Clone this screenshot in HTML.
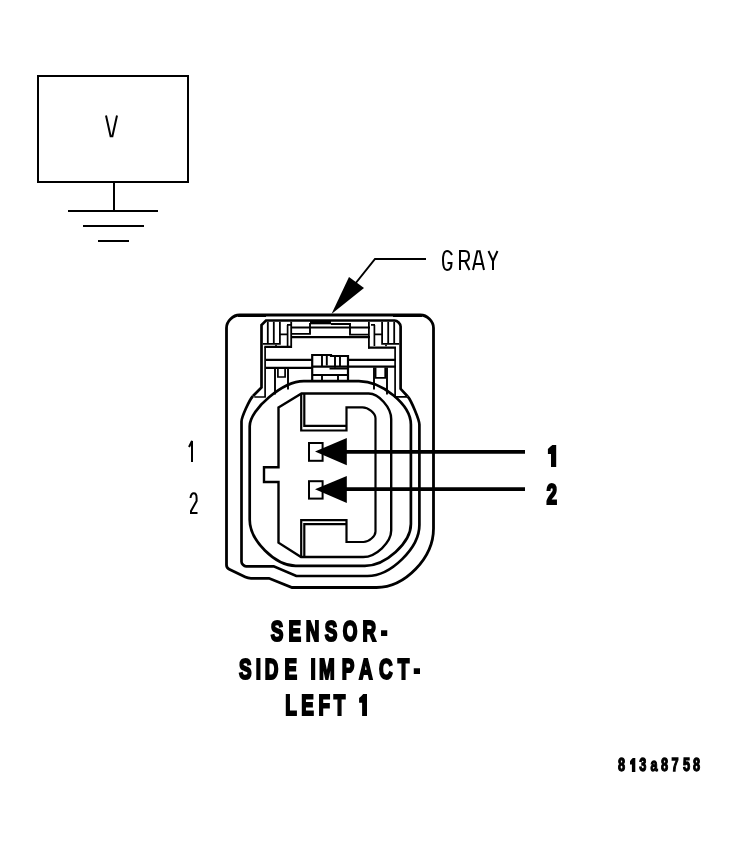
<!DOCTYPE html>
<html><head><meta charset="utf-8">
<style>
html,body{margin:0;padding:0;background:#fff;width:737px;height:847px;overflow:hidden}
svg{display:block;position:absolute;left:0;top:0;will-change:transform}
.b{font-family:"Liberation Sans",sans-serif;font-weight:bold}
</style></head>
<body>
<svg width="737" height="847" viewBox="0 0 737 847">
<rect x="0" y="0" width="737" height="847" fill="#fff"/>
<g fill="none" stroke="#000" stroke-linecap="butt" stroke-linejoin="miter">
<rect stroke-width="2" x="38" y="76" width="150" height="106"/>
<path stroke-width="2" d="M114 183V211M68 211H158M83 226H144M98 241H129"/>
<path stroke-width="2" d="M106 115.5L110.6 136.3H112.4L117 115.5"/>
<path stroke-width="2" d="M426 259H375L355 284"/>
<path stroke-width="2.8" d="M239.50 315.00L420.50 315.00C427.00 315.00 433.50 321.50 433.50 328.00L433.50 528.50C433.50 558.00 405.00 587.50 376.50 587.50L292.00 587.50L269.00 578.30L251.00 578.30C249.50 578.30 246.65 577.65 245.29 577.00L229.21 569.30C227.85 568.65 226.50 566.50 226.50 565.00L226.50 328.00C226.50 321.50 233.00 315.00 239.50 315.00Z"/>
<path stroke-width="2.7" d="M253.00 396.00L261.50 387.50L261.50 325.00L266.00 320.50L394.60 320.50C397.30 320.50 400.60 323.80 400.60 326.50L400.60 388.80L407.70 396.50"/>
<path stroke-width="2.7" d="M253.00 396.00L252.81 396.19C249.42 399.58 241.50 417.30 241.50 421.50L241.50 561.80C241.50 563.82 243.97 566.30 246.00 566.30L273.70 566.30L296.30 576.00L367.40 576.00C390.80 576.00 419.40 547.95 419.40 525.00L419.40 424.60C419.40 419.98 411.19 400.29 407.68 396.48L407.70 396.50"/>
<path stroke-width="2.7" d="M303.70 381.20L358.90 381.20C382.30 381.20 410.90 405.07 410.90 424.60L410.90 524.00C410.90 542.81 385.60 565.80 364.90 565.80L295.70 565.80C275.00 565.80 249.70 540.50 249.70 519.80L249.70 426.20C249.70 409.10 283.18 381.20 303.70 381.20Z"/>
<path stroke-width="2.4" d="M278.50 407.50L301.50 393.50L368.70 393.50C378.82 393.50 391.20 407.52 391.20 419.00L391.20 530.60C391.20 542.48 375.80 557.00 363.20 557.00L301.00 557.00L278.50 542.70L278.50 482.00L264.00 482.00L264.00 467.30L278.50 467.30L278.50 407.50Z"/>
<path stroke-width="2.2" d="M301.20 393.50L301.20 430.50L346.50 430.50L346.50 407.30L362.50 407.30C368.35 407.30 375.50 413.35 375.50 418.30L375.50 531.50C375.50 536.23 368.90 542.00 363.50 542.00L346.50 542.00L346.50 520.20L301.20 520.20L301.20 557.50"/>
<path stroke-width="2.2" d="M304.3 393.5V425.8H346.5M304.3 557.5V524.2H346.5"/>
<rect stroke-width="2" x="309" y="443" width="13.6" height="17.8"/>
<rect stroke-width="2" x="309" y="481.2" width="13.6" height="17.4"/>
<path stroke-width="3.8" d="M340 451.85H525M340 489.15H525"/>
<g><path stroke-width="1.8" d="M267.8 321.8V343.8M273.8 321.8V343.8M279.9 321.8V343.8M262.9 343.8H280.8M280.8 334.4H287"/><path stroke-width="1.7" d="M276 344.7V346.3M287.6 325V346M287 324.8H291"/><path stroke-width="2.2" d="M266 359.8H313"/><path stroke-width="1.9" d="M275 367.5V394.5M288 367.5V389.6"/></g>
<g transform="translate(662 0) scale(-1 1)"><path stroke-width="1.8" d="M267.8 321.8V343.8M273.8 321.8V343.8M279.9 321.8V343.8M262.9 343.8H280.8M280.8 334.4H287"/><path stroke-width="1.7" d="M276 344.7V346.3M287.6 325V346M287 324.8H291"/><path stroke-width="2.2" d="M266 359.8H313"/><path stroke-width="1.9" d="M275 367.5V394.5M288 367.5V389.6"/></g>
<path stroke-width="1.8" d="M291.2 321.8V348M368.9 321.8V348.6"/>
<path stroke-width="1.7" d="M265.1 346.9V396.9M254.3 397H265.9M395.1 347.6V396.7M394.3 396.8H407"/>
<path stroke-width="2.2" d="M264.3 346.9H292M368 347.6H396"/>
<path stroke-width="1.9" d="M310 323V334.7M292 333.9H310.9M350 323V335.5M349.1 334.6H369"/>
<path stroke-width="2" d="M292 327.5H370M331 323.9H350.8"/>
<path stroke-width="2.2" d="M292 337.2H370M266 367.8H312M312 366.6H396"/>
<path stroke-width="1.7" d="M277.9 367.9V377H285.1V367.9M375.6 367.5V377.9H385.2V367.5"/>
<path stroke-width="1.2" d="M238 316.5H266M393 316.5H422"/>
<path stroke-width="2.2" d="M312.2 381V355H331V356H348V381"/>
<path stroke-width="1.9" d="M322 356V366.6M326.8 356V365.5M335 356.8V367.5M340 356.8V366M329.5 368.6H347M313 375H347M322 375V381M338 376V381"/>
</g>
<g fill="#000" stroke="none">
<polygon points="331.5,314 349,277 364,288"/>
<polygon points="363.2,694 367,694 367,716 362.1,716 362.1,702.7 359.1,702.7 359.1,698 361.2,696.3"/>
<polygon points="552.4,445 556.2,445 556.2,467 551,467 551,454 547.9,454 547.9,449 550.2,446.8"/>
<polygon points="632.8,757.9 635.3,757.9 635.3,772 631.9,772 631.9,764.4 630,764.4 630,761.2 631.3,759.5"/>
<polygon points="315,451.5 346.8,438 346.8,465.2"/>
<polygon points="315,489.2 346.8,476 346.8,503"/>
<rect x="310" y="320" width="21" height="4.3"/>
</g>
<g fill="none" stroke="#000" stroke-width="2">
<path d="M452 255Q450 251 447 251Q443 251 443 260Q443 270 447 270Q451.5 270 451.5 263H447.5"/>
<path d="M460 270V251H465Q469 251 469 256Q469 261 465 261H460M465 261L469.5 270"/>
<path d="M473 270L477.3 251.2H479.7L484 270M475 264H482"/>
<path d="M488.5 251L493 261L497.5 251M493 261V270"/>
<path d="M189 447L192 441V462"/>
<path d="M190.5 498Q191 493.3 193.8 493.3Q196.6 493.3 196.6 498V501L191 511V513H197.5"/>
</g>
<g class="b" fill="#000" stroke="#000" stroke-linejoin="miter">
<text transform="translate(270.79 640.90) scale(0.656 1)" font-size="28.80" stroke-width="2.20">S</text>
<text transform="translate(288.43 640.90) scale(0.656 1)" font-size="28.80" stroke-width="2.20">E</text>
<text transform="translate(305.72 640.90) scale(0.656 1)" font-size="28.80" stroke-width="2.20">N</text>
<text transform="translate(324.84 640.90) scale(0.656 1)" font-size="28.80" stroke-width="2.20">S</text>
<text transform="translate(342.83 640.90) scale(0.656 1)" font-size="28.80" stroke-width="2.20">O</text>
<text transform="translate(362.40 640.90) scale(0.656 1)" font-size="28.80" stroke-width="2.20">R</text>
<text transform="translate(381.01 640.90) scale(0.656 1)" font-size="28.80" stroke-width="2.20">-</text>
<text transform="translate(238.89 678.90) scale(0.656 1)" font-size="28.80" stroke-width="2.20">S</text>
<text transform="translate(255.78 678.90) scale(0.656 1)" font-size="28.80" stroke-width="2.20">I</text>
<text transform="translate(264.69 678.90) scale(0.656 1)" font-size="28.80" stroke-width="2.20">D</text>
<text transform="translate(284.43 678.90) scale(0.656 1)" font-size="28.80" stroke-width="2.20">E</text>
<text transform="translate(310.38 678.90) scale(0.656 1)" font-size="28.80" stroke-width="2.20">I</text>
<text transform="translate(318.89 678.90) scale(0.656 1)" font-size="28.80" stroke-width="2.20">M</text>
<text transform="translate(341.74 678.90) scale(0.656 1)" font-size="28.80" stroke-width="2.20">P</text>
<text transform="translate(359.05 678.90) scale(0.656 1)" font-size="28.80" stroke-width="2.20">A</text>
<text transform="translate(379.01 678.90) scale(0.656 1)" font-size="28.80" stroke-width="2.20">C</text>
<text transform="translate(397.66 678.90) scale(0.656 1)" font-size="28.80" stroke-width="2.20">T</text>
<text transform="translate(413.76 678.90) scale(0.656 1)" font-size="28.80" stroke-width="2.20">-</text>
<text transform="translate(285.18 714.70) scale(0.656 1)" font-size="28.80" stroke-width="2.20">L</text>
<text transform="translate(301.28 714.70) scale(0.656 1)" font-size="28.80" stroke-width="2.20">E</text>
<text transform="translate(318.38 714.70) scale(0.656 1)" font-size="28.80" stroke-width="2.20">F</text>
<text transform="translate(333.81 714.70) scale(0.656 1)" font-size="28.80" stroke-width="2.20">T</text>

<text transform="translate(546.50 503.90) scale(0.656 1)" font-size="28.80" stroke-width="2.20">2</text>
<text transform="translate(617.94 771.25) scale(0.690 1)" font-size="18.50" stroke-width="1.30">8</text>
<text transform="translate(639.19 771.25) scale(0.690 1)" font-size="18.50" stroke-width="1.30">3</text>
<text transform="translate(650.62 771.25) scale(0.690 1)" font-size="18.50" stroke-width="1.30">a</text>
<text transform="translate(661.04 771.25) scale(0.690 1)" font-size="18.50" stroke-width="1.30">8</text>
<text transform="translate(671.56 771.25) scale(0.690 1)" font-size="18.50" stroke-width="1.30">7</text>
<text transform="translate(683.08 771.25) scale(0.690 1)" font-size="18.50" stroke-width="1.30">5</text>
<text transform="translate(692.94 771.25) scale(0.690 1)" font-size="18.50" stroke-width="1.30">8</text>
</g>
</svg>
</body></html>
